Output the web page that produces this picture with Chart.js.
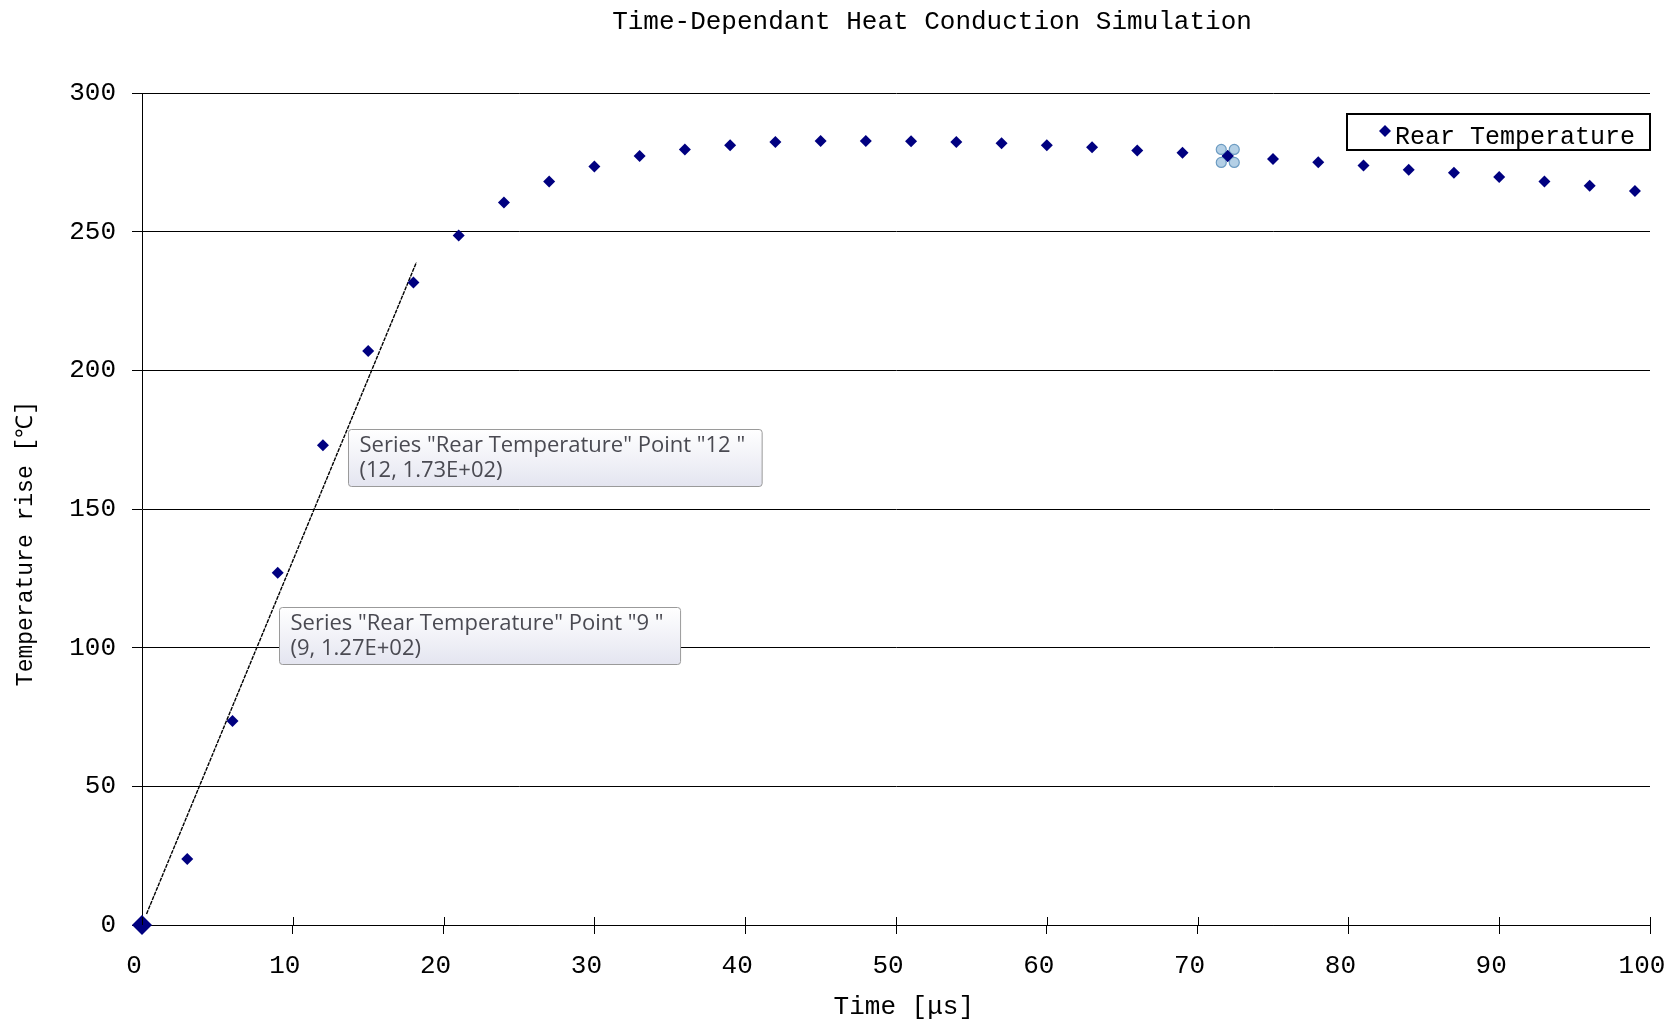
<!DOCTYPE html>
<html>
<head>
<meta charset="utf-8">
<title>Time-Dependant Heat Conduction Simulation</title>
<script src="https://cdn.jsdelivr.net/npm/chart.js@4.4.1/dist/chart.umd.min.js"></script>
<style>
  html, body { margin: 0; padding: 0; background: #fff; }
  canvas { display: block; }
</style>
</head>
<body>
<canvas id="chart" width="1669" height="1025"></canvas>
<script>
// values
var chartTitle = 'Time-Dependant Heat Conduction Simulation';
var seriesName = 'Rear Temperature';
var timeUs = [0, 3, 6, 9, 12, 15, 18, 21, 24, 27, 30, 33, 36, 39, 42, 45, 48,
  51, 54, 57, 60, 63, 66, 69, 72, 75, 78, 81, 84, 87, 90, 93, 96, 99];
var rearTemp = [0, 23.8, 73.6, 127, 173, 207, 231.7, 248.6, 260.5, 268.1, 273.5,
  277.3, 279.6, 281.2, 282.3, 282.7, 282.7, 282.6, 282.3, 281.9, 281.2, 280.4,
  279.3, 278.5, 277.3, 276.2, 275, 273.9, 272.3, 271.2, 269.7, 268.1, 266.6, 264.7];
// hand drawn trend line, end points
var trendX = [0.3, 18.2];
var trendY = [4, 239];
var xTicks = [0, 10, 20, 30, 40, 50, 60, 70, 80, 90, 100];
var yTicks = [0, 50, 100, 150, 200, 250, 300];
// points with an open hover box, and the selected one
var noteIndex = [4, 3];
var selectedIndex = 24;

var mono = '"Liberation Mono", "DejaVu Sans Mono", monospace';
var navy = '#000080';

function sci(v) {
  var s = v.toExponential(2).toUpperCase();
  return s.replace(/E([+-])(\d)$/, 'E$10$2');
}

function diamond(ctx, x, y, r) {
  ctx.beginPath();
  ctx.moveTo(x, y - r);
  ctx.lineTo(x + r, y);
  ctx.lineTo(x, y + r);
  ctx.lineTo(x - r, y);
  ctx.closePath();
  ctx.fill();
}

var headings = {
  id: 'headings',
  afterDraw: function(chart) {
    var ctx = chart.ctx;
    ctx.save();
    ctx.fillStyle = '#000';
    ctx.font = '26px ' + mono;
    ctx.textAlign = 'center';
    ctx.textBaseline = 'middle';
    ctx.fillText(chartTitle, 932, 22);
    ctx.restore();
  }
};

// x ticks cross the axis line, draw the part above it
var crossTicks = {
  id: 'crossTicks',
  afterDraw: function(chart) {
    var xs = chart.scales.x, ctx = chart.ctx;
    var y0 = Math.round(chart.chartArea.bottom);
    ctx.save();
    ctx.strokeStyle = '#000';
    ctx.lineWidth = 1;
    xTicks.forEach(function(v) {
      var px = Math.round(xs.getPixelForValue(v)) + 0.5;
      ctx.beginPath();
      ctx.moveTo(px, y0 - 8);
      ctx.lineTo(px, y0);
      ctx.stroke();
    });
    ctx.restore();
  }
};

var legendBox = {
  id: 'legendBox',
  afterDraw: function(chart) {
    var a = chart.chartArea, ctx = chart.ctx;
    var w = 303, h = 36, x = a.right - w, y = a.top + 21;
    ctx.save();
    ctx.fillStyle = '#fff';
    ctx.fillRect(x, y, w, h);
    ctx.strokeStyle = '#000';
    ctx.lineWidth = 2;
    ctx.strokeRect(x, y, w, h);
    ctx.fillStyle = navy;
    diamond(ctx, x + 38, y + 17, 6);
    ctx.fillStyle = '#000';
    ctx.font = '25px ' + mono;
    ctx.textBaseline = 'middle';
    ctx.fillText(seriesName, x + 48, y + 23);
    ctx.restore();
  }
};

var handles = {
  id: 'handles',
  afterDatasetsDraw: function(chart) {
    var el = chart.getDatasetMeta(0).data[selectedIndex];
    var ctx = chart.ctx;
    ctx.save();
    ctx.fillStyle = '#b4d0e6';
    ctx.strokeStyle = '#6d9cc2';
    ctx.lineWidth = 1.2;
    [[-6.5, -6.5], [6.5, -6.5], [-6.5, 6.5], [6.5, 6.5]].forEach(function(o) {
      ctx.beginPath();
      ctx.arc(el.x + o[0], el.y + o[1], 5, 0, Math.PI * 2);
      ctx.fill();
      ctx.stroke();
    });
    ctx.fillStyle = navy;
    diamond(ctx, el.x, el.y, 6);
    ctx.restore();
  }
};

var notes = {
  id: 'notes',
  afterDraw: function(chart, args, opts) {
    var meta = chart.getDatasetMeta(0);
    var ctx = chart.ctx;
    ctx.save();
    ctx.font = opts.font;
    opts.offsets.forEach(function(off, k) {
      var i = noteIndex[k];
      var el = meta.data[i];
      var l1 = 'Series "' + seriesName + '" Point "' + timeUs[i] + ' "';
      var l2 = '(' + timeUs[i] + ', ' + sci(rearTemp[i]) + ')';
      var w = Math.max(ctx.measureText(l1).width, ctx.measureText(l2).width) + 28;
      var h = 57;
      var x = Math.round(el.x + off[0]) + 0.5, y = Math.round(el.y + off[1]) + 0.5;
      var g = ctx.createLinearGradient(0, y, 0, y + h);
      g.addColorStop(0, '#ffffff');
      g.addColorStop(1, '#e4e5f0');
      ctx.beginPath();
      ctx.roundRect(x, y, w, h, 3);
      ctx.fillStyle = g;
      ctx.fill();
      ctx.strokeStyle = '#9a9a9a';
      ctx.lineWidth = 1;
      ctx.stroke();
      ctx.fillStyle = '#4a4a52';
      ctx.textBaseline = 'middle';
      ctx.fillText(l1, x + 11, y + 16);
      ctx.fillText(l2, x + 11, y + 41);
    });
    ctx.restore();
  }
};

var points = timeUs.map(function(t, i) { return { x: t, y: rearTemp[i] }; });
var trend = trendX.map(function(t, i) { return { x: t, y: trendY[i] }; });

new Chart(document.getElementById('chart'), {
  type: 'scatter',
  data: {
    datasets: [{
      label: seriesName,
      data: points,
      pointStyle: 'rectRot',
      pointRadius: function(c) { return c.dataIndex === 0 ? 10 : 6; },
      pointHoverRadius: function(c) { return c.dataIndex === 0 ? 10 : 6; },
      backgroundColor: navy,
      borderColor: navy,
      borderWidth: 0,
      clip: false
    }, {
      label: 'trend',
      data: trend,
      showLine: true,
      pointRadius: 0,
      borderColor: '#000',
      borderWidth: 1.4,
      borderDash: [4, 1],
      clip: false
    }]
  },
  options: {
    responsive: false,
    animation: false,
    events: [],
    layout: { padding: { top: 93, left: 0, right: 19, bottom: 0 } },
    plugins: {
      legend: { display: false },
      title: { display: false },
      tooltip: { enabled: false },
      notes: { font: '22px "Open Sans", "Noto Sans", sans-serif', offsets: [[25, -16], [1, 34]] }
    },
    scales: {
      x: {
        type: 'linear',
        min: 0,
        max: 100,
        afterBuildTicks: function(s) { s.ticks = xTicks.map(function(v) { return { value: v }; }); },
        afterFit: function(s) { s.height = 100; s.paddingRight = 0; },
        grid: { drawOnChartArea: false, color: '#000', tickLength: 9, lineWidth: 1 },
        border: { color: '#000', width: 1 },
        ticks: { color: '#000', font: { family: mono, size: 26 }, padding: 17, labelOffset: -8, maxRotation: 0 },
        title: { display: true, text: ' Time [\u03bcs]', color: '#000', font: { family: mono, size: 26 }, padding: { top: 0, bottom: 2 } }
      },
      y: {
        min: 0,
        max: 300,
        afterBuildTicks: function(s) { s.ticks = yTicks.map(function(v) { return { value: v }; }); },
        afterFit: function(s) { s.width = 142; },
        grid: { color: '#000', tickLength: 10, lineWidth: 1 },
        border: { color: '#000', width: 1 },
        ticks: { color: '#000', font: { family: mono, size: 26 }, padding: 16 },
        title: { display: true, text: 'Temperature rise [\u2103]     ', color: '#000', font: { family: mono, size: 23 }, padding: { top: 12, bottom: 0 } }
      }
    }
  },
  plugins: [headings, crossTicks, legendBox, handles, notes]
});
</script>
</body>
</html>
